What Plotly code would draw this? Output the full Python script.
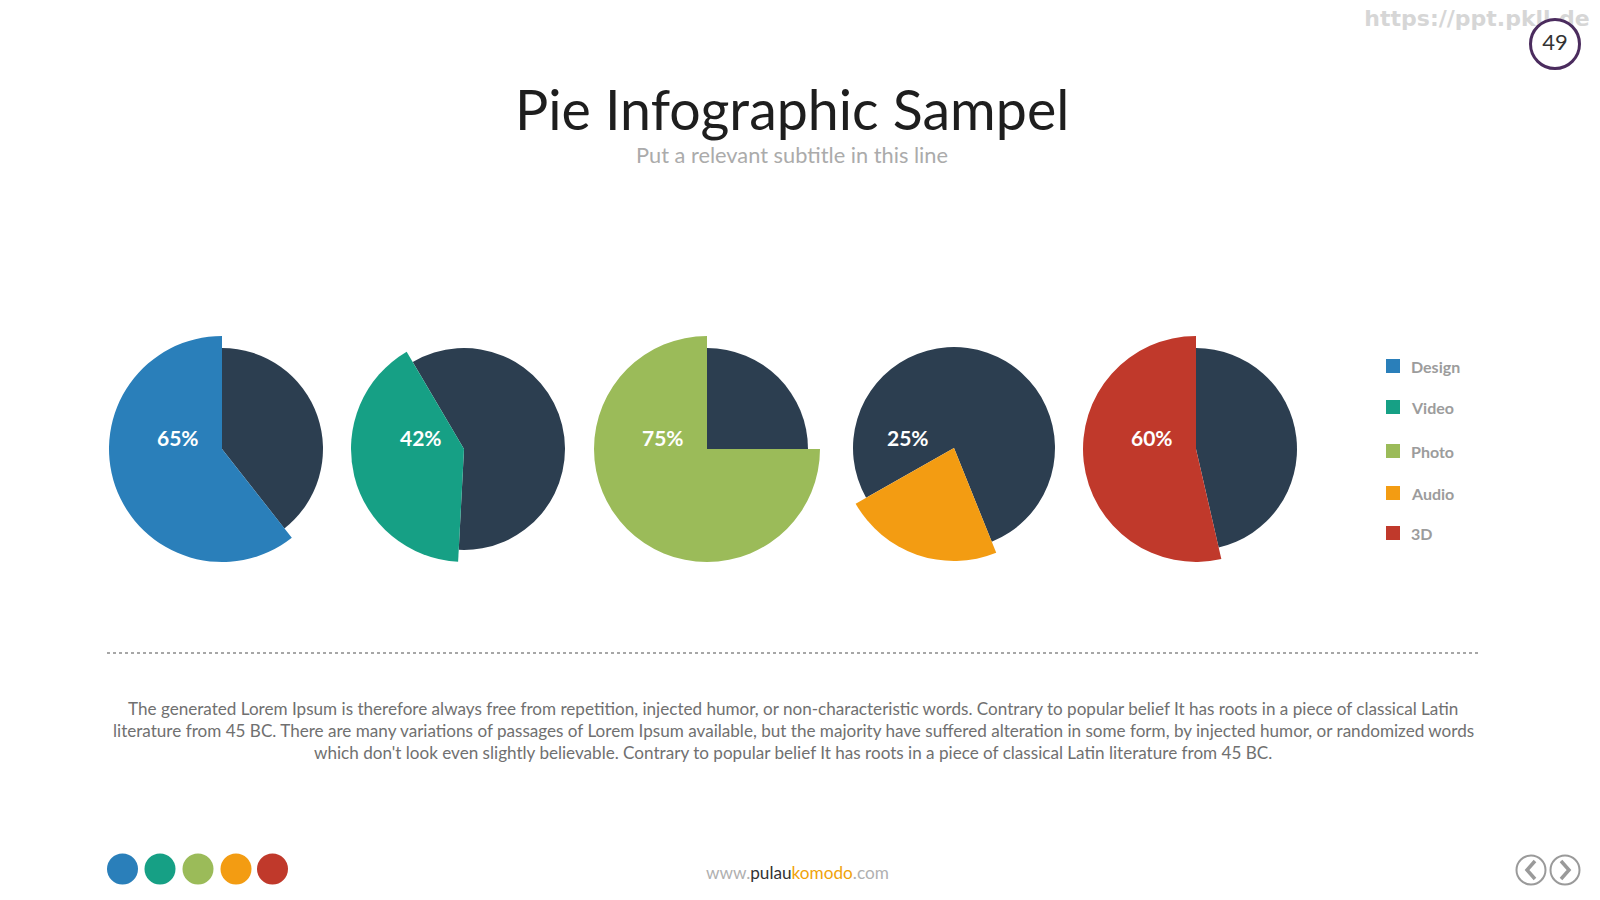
import plotly.graph_objects as go

# ---------------- data ----------------
categories = ["Design", "Video", "Photo", "Audio", "3D"]
label_values = [65, 42, 75, 25, 60]            # percentages printed on the pies
drawn_share = [60.6, 40.7, 75.0, 22.9, 53.6]   # share of each pie the highlighted slice visibly covers
series_colors = ["#2a7fba", "#16a085", "#9bbb59", "#f39c12", "#c0392b"]
dark = "#2c3e50"

title_text = "Pie Infographic Sampel"
subtitle_text = "Put a relevant subtitle in this line"
body_lines = [
    "The generated Lorem Ipsum is therefore always free from repetition, injected humor, or non-characteristic words. Contrary to popular belief It has roots in a piece of classical Latin",
    "literature from 45 BC. There are many variations of passages of Lorem Ipsum available, but the majority have suffered alteration in some form, by injected humor, or randomized words",
    "which don't look even slightly believable. Contrary to popular belief It has roots in a piece of classical Latin literature from 45 BC.",
]
page_number = "49"
watermark = "https://ppt.pkll.de"

# ---------------- layout constants ----------------
W, H = 1600, 900
pie_cx = [222, 464, 707, 954, 1196]
pie_cy = [449, 449, 449, 448, 449]
r_small = 101
r_big = 113
rotations = [0, -30.5, 0, -119.5, 0]
label_x = [177.5, 421, 663, 908, 1152]
label_y = 437
legend_x = 1393
legend_y = [366, 407, 451, 493, 533]
FONT = "Lato"


def dom(cx, cy, r):
    return dict(x=[(cx - r) / W, (cx + r) / W], y=[(H - cy - r) / H, (H - cy + r) / H])


fig = go.Figure()

# pies: dark remainder (small radius) + highlighted slice (larger radius)
for i, cat in enumerate(categories):
    s = drawn_share[i]
    fig.add_trace(go.Pie(
        values=[100 - s, s], labels=["rest", cat],
        marker=dict(colors=[dark, "rgba(0,0,0,0)"], line=dict(width=0)),
        domain=dom(pie_cx[i], pie_cy[i], r_small), sort=False, direction="clockwise",
        rotation=rotations[i], textinfo="none", hoverinfo="skip", showlegend=False))
    fig.add_trace(go.Pie(
        values=[100 - s, s], labels=["rest", cat],
        marker=dict(colors=["rgba(0,0,0,0)", series_colors[i]], line=dict(width=0)),
        domain=dom(pie_cx[i], pie_cy[i], r_big), sort=False, direction="clockwise",
        rotation=rotations[i], textinfo="none", hoverinfo="skip", showlegend=False))

# watermark text (under the page-number circle)
fig.add_trace(go.Scatter(x=[1477], y=[20], mode="text", text=[f"<b>{watermark}</b>"],
                         textfont=dict(family="DejaVu Sans", size=22, color="#d6d6d6"),
                         hoverinfo="skip", showlegend=False))
# page number circle
fig.add_trace(go.Scatter(x=[1555], y=[44], mode="markers+text", text=[page_number],
                         marker=dict(size=49, color="white", line=dict(color="#4b2c5e", width=3)),
                         textfont=dict(family=FONT, size=22, color="#333333"),
                         textposition="middle center", hoverinfo="skip", showlegend=False))

# legend squares
fig.add_trace(go.Scatter(x=[legend_x] * len(categories), y=legend_y, mode="markers",
                         marker=dict(symbol="square", size=14, color=series_colors),
                         hoverinfo="skip", showlegend=False))

# footer dots
fig.add_trace(go.Scatter(x=[122.5, 160, 198, 236, 272.5], y=[869] * 5, mode="markers",
                         marker=dict(size=31, color=series_colors),
                         hoverinfo="skip", showlegend=False))

# nav circles
fig.add_trace(go.Scatter(x=[1531, 1565], y=[870, 870], mode="markers",
                         marker=dict(size=29, color="white", line=dict(color="#9a9a9a", width=2)),
                         hoverinfo="skip", showlegend=False))
fig.add_trace(go.Scatter(x=[1535, 1527, 1535, None, 1561, 1569, 1561],
                         y=[861, 870, 879, None, 861, 870, 879], mode="lines",
                         line=dict(color="#9a9a9a", width=3.5),
                         hoverinfo="skip", showlegend=False))

annotations = []
annotations.append(dict(x=792, y=108, text=title_text, showarrow=False, xanchor="center", yanchor="middle",
                        font=dict(family=FONT, size=55.5, color="#1e1e1e")))
annotations.append(dict(x=792, y=154, text=subtitle_text, showarrow=False, xanchor="center", yanchor="middle",
                        font=dict(family=FONT, size=21.8, color="#ababab")))
for i, v in enumerate(label_values):
    annotations.append(dict(x=label_x[i], y=label_y, text=f"<b>{v}%</b>", showarrow=False,
                            xanchor="center", yanchor="middle",
                            font=dict(family=FONT, size=21, color="white")))
for i, cat in enumerate(categories):
    annotations.append(dict(x=1409, y=legend_y[i], text=f"<b>{cat}</b>", showarrow=False,
                            xanchor="left", yanchor="middle",
                            font=dict(family=FONT, size=16, color="#9c9c9c")))
for j, line in enumerate(body_lines):
    annotations.append(dict(x=793, y=708 + 22 * j, text=line, showarrow=False,
                            xanchor="center", yanchor="middle",
                            font=dict(family=FONT, size=17.1, color="#707070")))
annotations.append(dict(
    x=797, y=872, showarrow=False, xanchor="center", yanchor="middle",
    text="<span style='color:#b0b0b0'>www.</span><span style='color:#333333'>pulau</span>"
         "<span style='color:#f0a30a'>komodo</span><span style='color:#b0b0b0'>.com</span>",
    font=dict(family=FONT, size=17.2)))

fig.update_layout(
    width=W, height=H, margin=dict(l=0, r=0, t=0, b=0),
    paper_bgcolor="white", plot_bgcolor="white",
    xaxis=dict(range=[0, W], visible=False, fixedrange=True, domain=[0, 1]),
    yaxis=dict(range=[H, 0], visible=False, fixedrange=True, domain=[0, 1]),
    shapes=[dict(type="line", xref="x", yref="y", x0=107, x1=1481, y0=653, y1=653,
                 line=dict(color="#8a8a8a", width=1.5, dash="dot"))],
    annotations=annotations,
)

fig.write_html("out.html")
